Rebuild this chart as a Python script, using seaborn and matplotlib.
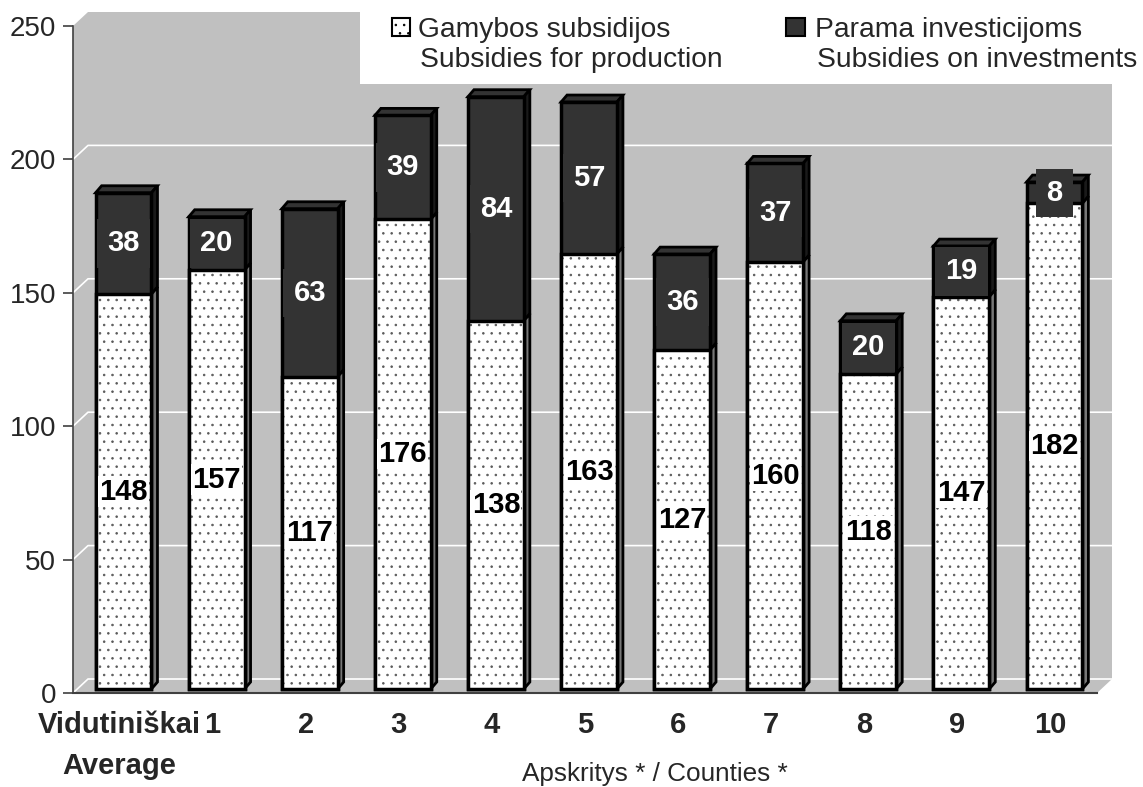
import numpy as np
import pandas as pd
import seaborn as sns
import matplotlib.pyplot as plt
from matplotlib.colors import to_rgba
from matplotlib.patches import Polygon, Rectangle
from matplotlib.transforms import offset_copy

# --- dati ---
categories = ['Vidutiniškai\nAverage', '1', '2', '3', '4', '5', '6', '7', '8', '9', '10']
production = [148, 157, 117, 176, 138, 163, 127, 160, 118, 147, 182]
investments = [38, 20, 63, 39, 84, 57, 36, 37, 20, 19, 8]
y_ticks = [0, 50, 100, 150, 200, 250]
legend_prod = ['Gamybos subsidijos', 'Subsidies for production']
legend_inv = ['Parama investicijoms', 'Subsidies on investments']
x_title = 'Apskritys * / Counties *'

df = pd.DataFrame({'county': categories, 'production': production, 'investments': investments})
df['total'] = df['production'] + df['investments']

# --- stile ---
sns.set_style('white')
plt.rcParams['font.family'] = ['Liberation Sans', 'DejaVu Sans']
plt.rcParams['hatch.linewidth'] = 0.6

W, H = 1143, 787
DARK = '#333333'
GRAY = '#c0c0c0'
DOTS = to_rgba('#5a5a5a')

fig = plt.figure(figsize=(W / 100, H / 100), dpi=100)
ax_l, ax_r, ax_b, ax_t = 73, 1097, 693, 26
ax = fig.add_axes([ax_l / W, 1 - ax_b / H, (ax_r - ax_l) / W, (ax_b - ax_t) / H])
ax.set_facecolor('none')

n = len(categories)
x0, x1 = -0.5, n - 0.5
px_x = (ax_r - ax_l) / n
px_y = (ax_b - ax_t) / 250
dx, dy = 15 / px_x, 14 / px_y   # profondita' parete
bx, by = 6 / px_x, 7 / px_y     # profondita' barre

# barre leggermente arretrate nella scena 3D
bar_trans = offset_copy(ax.transData, fig=fig, x=4, y=4, units='dots')

# parete grigia 3D
wall = Polygon([(x0, 0), (x0, 250), (x0 + dx, 250 + dy), (x1 + dx, 250 + dy),
                (x1 + dx, dy), (x1, 0)], closed=True, fc=GRAY, ec='none',
               zorder=0, clip_on=False)
ax.add_patch(wall)
for v in y_ticks[:-1]:
    ax.plot([x0, x0 + dx, x1 + dx], [v, v + dy, v + dy], color='white', lw=1.2,
            zorder=0.5, clip_on=False)

# barre impilate
sns.barplot(data=df, x='county', y='total', color=DARK, width=0.6, edgecolor='black',
            linewidth=2.5, saturation=1, ax=ax, zorder=2)
sns.barplot(data=df, x='county', y='production', color='white', width=0.6, edgecolor='black',
            linewidth=2.5, saturation=1, ax=ax, zorder=2)
for p in ax.patches[-2 * n:]:
    p.set_transform(bar_trans)
    p.set_clip_on(False)
for p in ax.patches[-n:]:
    p.set_hatch('..')
    p._hatch_color = DOTS   # puntini grigi, bordo nero

# facce 3D (lato e cima)
for i, (p, t) in enumerate(zip(df['production'], df['total'])):
    l, r = i - 0.3, i + 0.3
    faces = [([(l, t), (r, t), (r + bx, t + by), (l + bx, t + by)], DARK),
             ([(r, p), (r, t), (r + bx, t + by), (r + bx, p + by)], '#1a1a1a'),
             ([(r, 0), (r, p), (r + bx, p + by), (r + bx, by)], '#777777')]
    for pts, fc in faces:
        ax.add_patch(Polygon(pts, fc=fc, ec='black', lw=2, zorder=1.9, clip_on=False,
                             transform=bar_trans))

# etichette valori
for i, (p, v) in enumerate(zip(df['production'], df['investments'])):
    ax.text(i, p / 2, str(p), ha='center', va='center', fontsize=21, fontweight='bold',
            color='black', zorder=3, transform=bar_trans,
            bbox=dict(boxstyle='square,pad=0.04', fc='white', ec='none'))
    ax.text(i, p + v / 2, str(v), ha='center', va='center', fontsize=21, fontweight='bold',
            color='white', zorder=3, transform=bar_trans,
            bbox=dict(boxstyle='square,pad=0.35', fc=DARK, ec='none'))

# assi
ax.set_xlim(x0, x1)
ax.set_ylim(0, 250)
ax.set_yticks(y_ticks)
ax.set_xticks(np.arange(n), categories)
ax.set_xticks(np.arange(n + 1) - 0.5, minor=True)
ax.set_xlabel('')
ax.set_ylabel('')
ax.tick_params(axis='x', which='major', length=0, pad=13, labelsize=21)
ax.tick_params(axis='x', which='minor', length=8, width=1.2, color='#404040', direction='out')
ax.tick_params(axis='y', length=7.2, width=1.2, color='#404040', pad=5, labelsize=20,
               direction='out', left=True)
for lab in ax.get_xticklabels():
    lab.set_fontweight('bold')
    lab.set_linespacing(1.6)
for s in ['top', 'right']:
    ax.spines[s].set_visible(False)
ax.spines['left'].set_color('#404040')
ax.spines['left'].set_linewidth(1.2)
ax.spines['bottom'].set_color('#404040')
ax.spines['bottom'].set_linewidth(1.5)

fig.text(655 / W, 1 - 781 / H, x_title, ha='center', va='baseline', fontsize=18.8)

# legenda
fig.add_artist(Rectangle((360 / W, 1 - 84 / H), 1 - 360 / W, 84 / H,
                         transform=fig.transFigure, fc='white', ec='none', zorder=5))
fig.add_artist(Rectangle((392 / W, 1 - 36 / H), 18 / W, 18 / H, transform=fig.transFigure,
                         fc='white', ec='black', lw=1.5, hatch='..', zorder=6))
fig.add_artist(Rectangle((786 / W, 1 - 36 / H), 19 / W, 18 / H, transform=fig.transFigure,
                         fc=DARK, ec='black', lw=1.5, zorder=6))
for (xt, lines) in [(418, legend_prod), (815, legend_inv)]:
    fig.text(xt / W, 1 - 37 / H, lines[0], ha='left', va='baseline', fontsize=20.3, zorder=7)
    fig.text((xt + 2) / W, 1 - 67 / H, lines[1], ha='left', va='baseline', fontsize=20.3, zorder=7)

fig.savefig('out.png', dpi=100)
